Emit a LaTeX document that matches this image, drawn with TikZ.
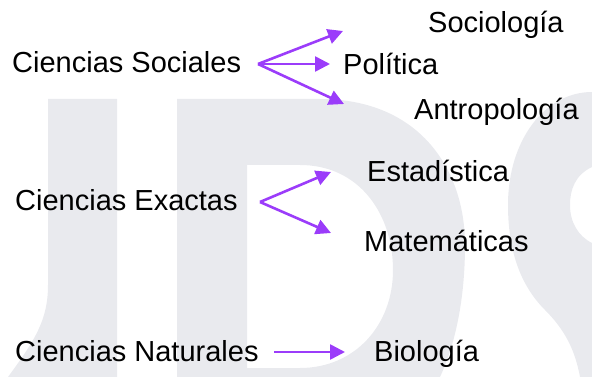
\documentclass[tikz,border=0pt]{standalone}
\usepackage{fontspec}
\setmainfont{Liberation Sans}
\usetikzlibrary{arrows.meta, positioning}
\definecolor{linkcolor}{RGB}{155, 60, 250}
\definecolor{watermarkcolor}{RGB}{233, 234, 238}

\begin{document}
\begin{tikzpicture}[
    x=1pt, y=-1pt,
    field/.style={anchor=base west, inner sep=0pt, font=\fontsize{29}{34}\selectfont},
    branch/.style={anchor=base west, inner sep=0pt, font=\fontsize{29}{34}\selectfont},
    link/.style={draw=linkcolor, line width=2.6pt, -{Triangle[length=15pt, width=15pt]}},
    watermark/.style={fill=watermarkcolor, draw=none},
]
    \useasboundingbox (0, 0) rectangle (592, 377);

    % Watermark letters
    \fill[watermark] (48, 99) -- (117, 99) -- (117, 377) -- (8, 377) .. controls (35, 340) and (48, 320) .. (48, 285) -- cycle;
    \fill[watermark, even odd rule] (177, 99) -- (320, 99) .. controls (420, 99) and (465, 170) .. (465, 245) .. controls (465, 300) and (455, 345) .. (440, 377) -- (177, 377) -- cycle
        (247, 165) -- (300, 165) .. controls (360, 165) and (393, 215) .. (393, 270) .. controls (393, 325) and (355, 368) .. (300, 368) -- (247, 368) -- cycle;
    \fill[watermark, even odd rule] (592, 92) .. controls (545, 92) and (508, 140) .. (508, 205) .. controls (508, 250) and (520, 285) .. (545, 310) .. controls (565, 330) and (575, 350) .. (580, 377) -- (592, 377) -- cycle
        (592, 167) .. controls (575, 175) and (570, 190) .. (570, 205) .. controls (570, 222) and (578, 236) .. (592, 243) -- cycle;

    % Fields
    \node[field] (sociales) at (12, 73) {Ciencias Sociales};
    \node[field] (exactas) at (15, 211) {Ciencias Exactas};
    \node[field] (naturales) at (15, 361) {Ciencias Naturales};

    % Branches
    \node[branch] (sociologia) at (428, 33) {Sociología};
    \node[branch] (politica) at (343, 75) {Política};
    \node[branch] (antropologia) at (414, 120) {Antropología};
    \node[branch] (estadistica) at (367, 182) {Estadística};
    \node[branch] (matematicas) at (364, 251) {Matemáticas};
    \node[branch] (biologia) at (374, 361) {Biología};

    % Arrow points
    \coordinate (forkS) at (258, 64);
    \coordinate (tipSocio) at (343, 31);
    \coordinate (tipPoli) at (330, 64);
    \coordinate (tipAntro) at (344, 104);
    \coordinate (forkE) at (260, 202);
    \coordinate (tipEsta) at (331, 172);
    \coordinate (tipMate) at (331, 233);
    \coordinate (startN) at (274, 352);
    \coordinate (tipBio) at (345, 352);

    % Arrows
    \draw[link] (forkS) -- (tipSocio);
    \draw[link] (forkS) -- (tipPoli);
    \draw[link] (forkS) -- (tipAntro);
    \draw[link] (forkE) -- (tipEsta);
    \draw[link] (forkE) -- (tipMate);
    \draw[link] (startN) -- (tipBio);

\end{tikzpicture}
\end{document}
